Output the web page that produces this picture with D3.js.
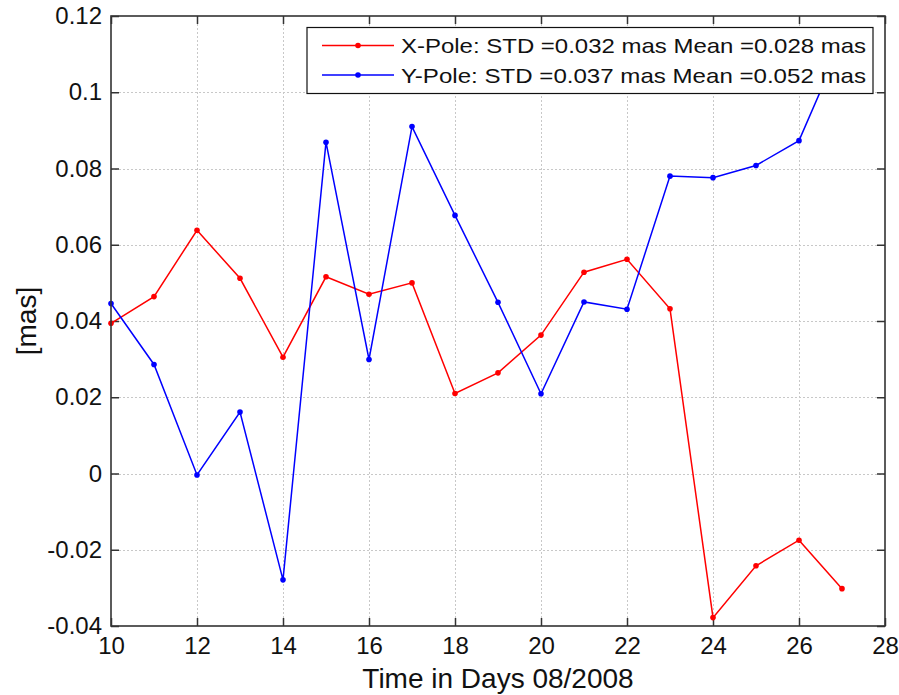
<!DOCTYPE html>
<html>
<head>
<meta charset="utf-8">
<script src="https://cdn.jsdelivr.net/npm/d3@7"></script>
<style>
  html, body { margin: 0; padding: 0; background: #fff; }
  svg { display: block; font-family: "Liberation Sans", Arial, Helvetica, sans-serif; }
</style>
</head>
<body>
<svg id="chart" width="899" height="695"></svg>
<script>
// Daily pole offsets, August 2008
const days = [10, 11, 12, 13, 14, 15, 16, 17, 18, 19, 20, 21, 22, 23, 24, 25, 26, 27];
const xPole = [0.0394, 0.0464, 0.0638, 0.0512, 0.0305, 0.0516, 0.0470, 0.0500, 0.0210,
               0.0264, 0.0363, 0.0528, 0.0562, 0.0432, -0.0378, -0.0242, -0.0175, -0.0302];
const yPole = [0.0446, 0.0286, -0.0004, 0.0161, -0.0279, 0.0869, 0.0299, 0.0910, 0.0677,
               0.0449, 0.0209, 0.0450, 0.0431, 0.0780, 0.0776, 0.0808, 0.0873, 0.1133];
const xTicks = [10, 12, 14, 16, 18, 20, 22, 24, 26, 28];
const yTicks = [-0.04, -0.02, 0, 0.02, 0.04, 0.06, 0.08, 0.1, 0.12];
const seriesNames = [
  "X-Pole: STD =0.032 mas Mean =0.028 mas",
  "Y-Pole: STD =0.037 mas Mean =0.052 mas"
];
const seriesColors = ["#ff0000", "#0000ff"];

const svg = d3.select("#chart");
const plot = { left: 111, top: 16, right: 885, bottom: 626 };

const x = d3.scaleLinear().domain([10, 28]).range([plot.left, plot.right]);
const y = d3.scaleLinear().domain([-0.04, 0.12]).range([plot.bottom, plot.top]);

const tickFmt = d => (Math.abs(d) < 1e-12 ? "0" : String(+d.toFixed(2)));

// Dotted grid
const grid = svg.append("g").attr("stroke", "#c8c8c8").attr("stroke-width", 1)
  .attr("stroke-dasharray", "2,2");
grid.selectAll(".gx").data(xTicks.slice(1, -1)).join("line")
  .attr("x1", d => x(d) + 0.5).attr("x2", d => x(d) + 0.5)
  .attr("y1", plot.top).attr("y2", plot.bottom);
grid.selectAll(".gy").data(yTicks.slice(1, -1)).join("line")
  .attr("y1", d => Math.round(y(d)) + 0.5).attr("y2", d => Math.round(y(d)) + 0.5)
  .attr("x1", plot.left).attr("x2", plot.right);

// Axes with inward ticks on all four sides
const tickLen = 8;
const axisColor = "#333";
const axB = svg.append("g").attr("transform", `translate(0,${plot.bottom})`)
  .call(d3.axisBottom(x).tickValues(xTicks).tickSizeInner(-tickLen).tickSizeOuter(0).tickPadding(11).tickFormat(tickFmt));
const axT = svg.append("g").attr("transform", `translate(0,${plot.top})`)
  .call(d3.axisTop(x).tickValues(xTicks).tickSizeInner(-tickLen).tickSizeOuter(0).tickFormat(""));
const axL = svg.append("g").attr("transform", `translate(${plot.left},0)`)
  .call(d3.axisLeft(y).tickValues(yTicks).tickSizeInner(-tickLen).tickSizeOuter(0).tickPadding(9).tickFormat(tickFmt));
const axR = svg.append("g").attr("transform", `translate(${plot.right},0)`)
  .call(d3.axisRight(y).tickValues(yTicks).tickSizeInner(-tickLen).tickSizeOuter(0).tickFormat(""));

[axB, axT, axL, axR].forEach(a => {
  a.select(".domain").remove();
  a.selectAll(".tick line").attr("stroke", axisColor).attr("stroke-width", 1.5);
  a.selectAll(".tick text").attr("fill", "#111").style("font-size", "24px")
    .style("font-family", '"Liberation Sans", Arial, sans-serif');
});

// Series lines and markers
const line = d3.line().x((d, i) => x(days[i])).y(d => y(d));
[xPole, yPole].forEach((vals, k) => {
  svg.append("path").datum(vals)
    .attr("fill", "none").attr("stroke", seriesColors[k]).attr("stroke-width", 1.5)
    .attr("d", line);
  svg.append("g").selectAll("circle").data(vals).join("circle")
    .attr("cx", (d, i) => x(days[i])).attr("cy", d => y(d)).attr("r", 2.8)
    .attr("fill", seriesColors[k]);
});

// Plot box
svg.append("rect")
  .attr("x", plot.left).attr("y", plot.top)
  .attr("width", plot.right - plot.left).attr("height", plot.bottom - plot.top)
  .attr("fill", "none").attr("stroke", axisColor).attr("stroke-width", 1.6);

// Legend
const leg = svg.append("g");
leg.append("rect").attr("x", 307).attr("y", 27.5).attr("width", 566).attr("height", 66)
  .attr("fill", "#fff").attr("stroke", "#111").attr("stroke-width", 1.2);
seriesNames.forEach((name, k) => {
  const cy = 45.5 + k * 29.5;
  leg.append("line").attr("x1", 322).attr("x2", 394).attr("y1", cy).attr("y2", cy)
    .attr("stroke", seriesColors[k]).attr("stroke-width", 1.5);
  leg.append("circle").attr("cx", 358).attr("cy", cy).attr("r", 2.8).attr("fill", seriesColors[k]);
  leg.append("text").attr("x", 401).attr("y", cy + 7.5)
    .attr("textLength", 465).attr("lengthAdjust", "spacingAndGlyphs")
    .style("font-size", "21px").attr("fill", "#111").text(name);
});

// Axis titles
svg.append("text").attr("x", (plot.left + plot.right) / 2).attr("y", 688)
  .attr("text-anchor", "middle").style("font-size", "28px").attr("fill", "#111")
  .text("Time in Days 08/2008");
svg.append("text")
  .attr("transform", `translate(36,${(plot.top + plot.bottom) / 2}) rotate(-90)`)
  .attr("text-anchor", "middle").style("font-size", "28px").attr("fill", "#111")
  .text("[mas]");
</script>
</body>
</html>
